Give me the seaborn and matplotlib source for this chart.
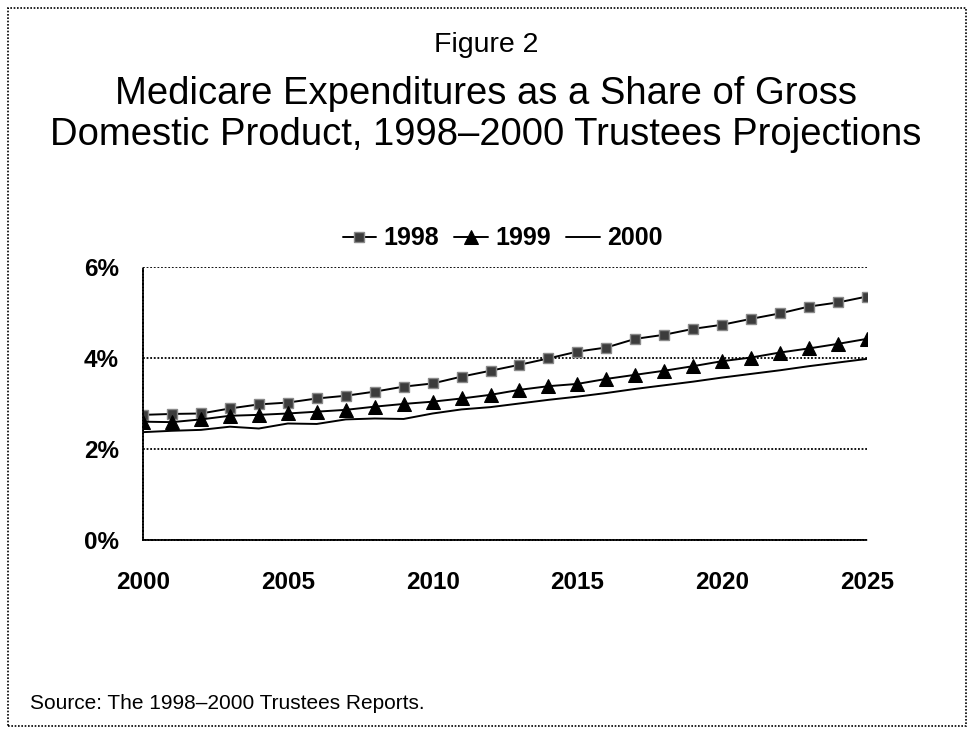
import matplotlib

matplotlib.use("Agg")
import matplotlib.pyplot as plt
import numpy as np
import pandas as pd
import seaborn as sns
from matplotlib.patches import Rectangle
from matplotlib.ticker import FuncFormatter, MultipleLocator

YEARS = list(range(2000, 2026))

# Medicare outlays as % of GDP
SHARE_1998 = [2.75, 2.77, 2.78, 2.89, 2.98, 3.02, 3.11, 3.17, 3.26, 3.37,
              3.44, 3.59, 3.72, 3.85, 3.99, 4.14, 4.23, 4.42, 4.51, 4.64,
              4.73, 4.86, 4.98, 5.13, 5.22, 5.35]
SHARE_1999 = [2.60, 2.59, 2.65, 2.73, 2.75, 2.78, 2.82, 2.86, 2.93, 2.99,
              3.04, 3.11, 3.19, 3.30, 3.38, 3.43, 3.54, 3.63, 3.72, 3.82,
              3.93, 4.01, 4.12, 4.21, 4.31, 4.42]
SHARE_2000 = [2.37, 2.40, 2.42, 2.49, 2.45, 2.56, 2.55, 2.65, 2.67, 2.66,
              2.78, 2.87, 2.92, 3.00, 3.08, 3.15, 3.23, 3.32, 3.40, 3.48,
              3.57, 3.65, 3.73, 3.82, 3.90, 3.98]

SERIES = {"1998": SHARE_1998, "1999": SHARE_1999, "2000": SHARE_2000}

TITLE_TOP = "Figure 2"
TITLE_MAIN = ("Medicare Expenditures as a Share of Gross\n"
              "Domestic Product, 1998\u20132000 Trustees Projections")
SOURCE = "Source: The 1998\u20132000 Trustees Reports."

sns.set_style("white")
plt.rcParams["font.family"] = ["Liberation Sans", "DejaVu Sans"]
plt.rcParams["text.color"] = "black"
plt.rcParams["xtick.color"] = "black"
plt.rcParams["ytick.color"] = "black"

df = pd.concat(
    [pd.DataFrame({"year": YEARS, "share": vals, "report": name})
     for name, vals in SERIES.items()],
    ignore_index=True,
)

fig = plt.figure(figsize=(9.73, 7.34), dpi=100)
ax = fig.add_axes([0.147, 0.2643, 0.744, 0.372])

styles = {
    "1998": dict(marker="s", markersize=7.5, markerfacecolor="#3c3c3c",
                 markeredgecolor="#8a8a8a", markeredgewidth=1.0),
    "1999": dict(marker="^", markersize=9.5, markerfacecolor="black",
                 markeredgecolor="black"),
    "2000": dict(marker=None),
}
for name in SERIES:
    sns.lineplot(data=df[df["report"] == name], x="year", y="share", ax=ax,
                 color="black", linewidth=1.4, label=name, **styles[name])

ax.set_xlim(2000, 2025)
ax.set_ylim(0, 6)
ax.xaxis.set_major_locator(MultipleLocator(5))
ax.yaxis.set_major_locator(MultipleLocator(2))
ax.yaxis.set_major_formatter(FuncFormatter(lambda v, _: f"{v:.0f}%"))
ax.grid(axis="y", color="black", linestyle=(0, (1, 1)), linewidth=1.3)
ax.set_axisbelow(True)
for side in ["top", "right"]:
    ax.spines[side].set_visible(False)
for side in ["left", "bottom"]:
    ax.spines[side].set_linestyle((0, (1, 0.8)))
    ax.spines[side].set_linewidth(1.3)
    ax.spines[side].set_color("black")
ax.tick_params(axis="both", which="major", length=7.5, width=1.3,
               direction="out", labelsize=17.5, labelcolor="black")
ax.tick_params(axis="x", pad=15)
ax.tick_params(axis="y", pad=10)
for lbl in ax.get_xticklabels() + ax.get_yticklabels():
    lbl.set_fontweight("bold")
ax.set_xlabel("")
ax.set_ylabel("")

ax.legend(loc="center", bbox_to_anchor=(0.497, 1.105), ncol=3, frameon=False,
          prop={"weight": "bold", "size": 18}, handlelength=1.35,
          handletextpad=0.3, columnspacing=0.6)

fig.text(0.4995, 0.939, TITLE_TOP, ha="center", va="center", fontsize=20.5)
fig.text(0.4995, 0.844, TITLE_MAIN, ha="center", va="center", fontsize=27.5,
         linespacing=1.2)
fig.text(0.031, 0.041, SOURCE, ha="left", va="center", fontsize=15)

fig.add_artist(Rectangle((0.0082, 0.0109), 0.9846, 0.978, transform=fig.transFigure,
                         fill=False, edgecolor="black", linewidth=1.2,
                         linestyle=(0, (1, 1))))

fig.savefig("out.png", dpi=100)
